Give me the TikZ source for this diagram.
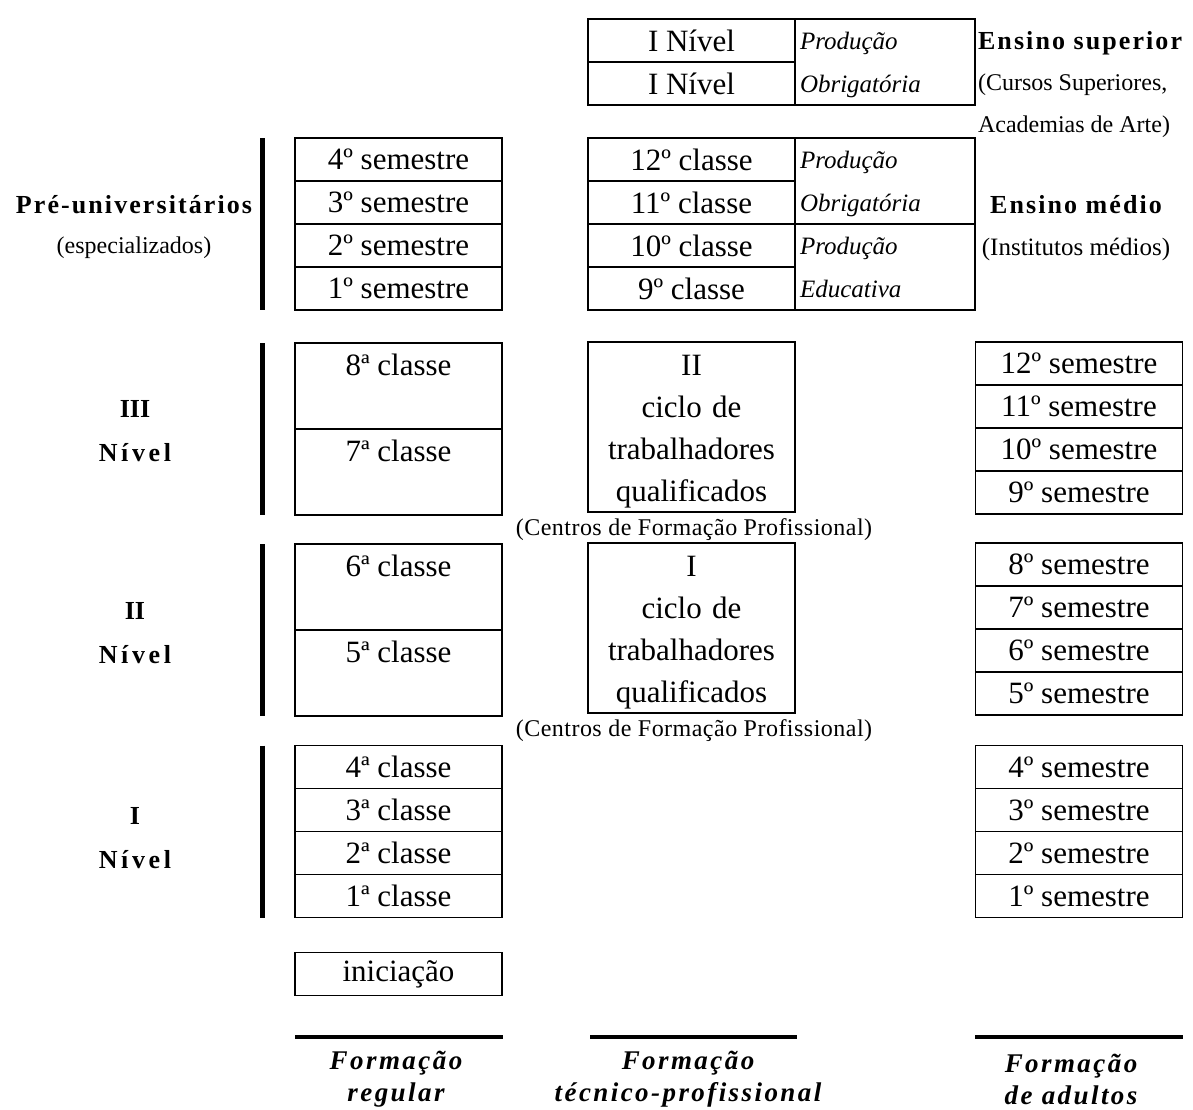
\documentclass[tikz,border=0pt]{standalone}
\usepackage{fontspec}
\setmainfont{Liberation Serif}
\newfontfamily\hdfont[LetterSpace=8]{Liberation Serif}
\newfontfamily\lvlfont[LetterSpace=14]{Liberation Serif}
\newfontfamily\ftfont[LetterSpace=9]{Liberation Serif}
\newfontfamily\cfpfont[LetterSpace=2]{Liberation Serif}
\usepackage{tikz}
\usetikzlibrary{positioning}
\newcommand\prodstrut{\rule[-3pt]{0pt}{14.5pt}}
\newcommand\ciclostrut{\rule[-3.4pt]{0pt}{18.2pt}}

\begin{document}
\begin{tikzpicture}[
  x=0.5pt, y=-0.5pt,
  cell/.style={draw, line width=0.9pt, minimum width=103.5pt, minimum height=21.5pt,
               inner sep=0pt, outer sep=0pt, align=center,
               font=\fontsize{15.5}{21}\selectfont},
  tallcell/.style={cell, minimum height=43pt},
  cyclebox/.style={cell, minimum height=85pt, text width=102pt,
                   execute at begin node=\ciclostrut, execute at end node=\ciclostrut},
  prodbox/.style={draw, line width=0.9pt, minimum width=90pt, minimum height=43pt,
                  inner sep=0pt, inner xsep=2.5pt, outer sep=0pt, text width=85pt,
                  align=left, font=\fontsize{12.5}{21.5}\selectfont\itshape,
                  execute at begin node=\prodstrut, execute at end node=\prodstrut},
  bar/.style={line width=2.5pt},
  rule/.style={line width=2pt},
  lvl/.style={align=center, font=\fontsize{13}{22}\selectfont\bfseries},
  note/.style={align=center, font=\fontsize{12}{20}\selectfont},
  cfp/.style={font=\fontsize{12}{14}\selectfont\cfpfont},
  colname/.style={align=center, font=\fontsize{13.5}{16}\selectfont\ftfont\bfseries\itshape},
]
  \useasboundingbox (0,0) rectangle (1193,1109);

  % Ensino superior
  \node[cell] (sup1) at (691.5,40.5) {I Nível};
  \node[cell, below=0pt of sup1] (sup2) {I Nível};
  \node[prodbox, anchor=north west] (supprod) at (sup1.north east) {Produção\\Obrigatória};
  \node[anchor=west, align=left, font=\fontsize{12}{20.75}\selectfont] (suplbl) at (971,84.5)
    {{\hdfont\bfseries\fontsize{13}{20.75}\selectfont Ensino\ superior}\\(Cursos Superiores,\\Academias de Arte)};

  % Ensino medio
  \node[cell] (c12) at (691.5,159.5) {12º classe};
  \node[cell, below=0pt of c12] (c11) {11º classe};
  \node[cell, below=0pt of c11] (c10) {10º classe};
  \node[cell, below=0pt of c10] (c9) {9º classe};
  \node[prodbox, anchor=north west] (prodob) at (c12.north east) {Produção\\Obrigatória};
  \node[prodbox, anchor=north west] (prodedu) at (c10.north east) {Produção\\Educativa};
  \node[note, font=\fontsize{12.5}{21}\selectfont] (medlbl) at (1076,228)
    {{\hdfont\bfseries\fontsize{13}{21}\selectfont Ensino\ médio}\\(Institutos médios)};

  % Pre-universitarios
  \node[cell] (s4) at (398.5,159.5) {4º semestre};
  \node[cell, below=0pt of s4] (s3) {3º semestre};
  \node[cell, below=0pt of s3] (s2) {2º semestre};
  \node[cell, below=0pt of s2] (s1) {1º semestre};
  \draw[bar] ([xshift=-16.5pt]s4.north west) -- ([xshift=-16.5pt]s1.south west);
  \node[note] (prelbl) at (134,227)
    {{\hdfont\bfseries\fontsize{13}{20}\selectfont Pré-universitários}\\(especializados)};

  % III Nivel
  \node[tallcell] (k8) at (398.5,386) {8ª classe\\\mbox{}};
  \node[tallcell, below=0pt of k8] (k7) {7ª classe\\\mbox{}};
  \draw[bar] ([xshift=-16.5pt]k8.north west) -- ([xshift=-16.5pt]k7.south west);
  \node[lvl] (lvl3) at (135,431) {III\\{\lvlfont Nível}};
  \node[cyclebox] (ciclo2) at (691.5,427) {II\\ciclo de\\trabalhadores\\qualificados};
  \node[cfp] (cfp2) at (694,530) {(Centros de Formação Profissional)};
  \node[cell] (a12) at (1079,363.5) {12º semestre};
  \node[cell, below=0pt of a12] (a11) {11º semestre};
  \node[cell, below=0pt of a11] (a10) {10º semestre};
  \node[cell, below=0pt of a10] (a9) {9º semestre};

  % II Nivel
  \node[tallcell] (k6) at (398.5,587) {6ª classe\\\mbox{}};
  \node[tallcell, below=0pt of k6] (k5) {5ª classe\\\mbox{}};
  \draw[bar] ([xshift=-16.5pt]k6.north west) -- ([xshift=-16.5pt]k5.south west);
  \node[lvl] (lvl2) at (135,633) {II\\{\lvlfont Nível}};
  \node[cyclebox] (ciclo1) at (691.5,628) {I\\ciclo de\\trabalhadores\\qualificados};
  \node[cfp] (cfp1) at (694,731) {(Centros de Formação Profissional)};
  \node[cell] (a8) at (1079,564.5) {8º semestre};
  \node[cell, below=0pt of a8] (a7) {7º semestre};
  \node[cell, below=0pt of a7] (a6) {6º semestre};
  \node[cell, below=0pt of a6] (a5) {5º semestre};

  % I Nivel
  \node[cell] (k4) at (398.5,767) {4ª classe};
  \node[cell, below=0pt of k4] (k3) {3ª classe};
  \node[cell, below=0pt of k3] (k2) {2ª classe};
  \node[cell, below=0pt of k2] (k1) {1ª classe};
  \draw[bar] ([xshift=-16.5pt]k4.north west) -- ([xshift=-16.5pt]k1.south west);
  \node[lvl] (lvl1) at (135,838) {I\\{\lvlfont Nível}};
  \node[cell] (a4) at (1079,767) {4º semestre};
  \node[cell, below=0pt of a4] (a3) {3º semestre};
  \node[cell, below=0pt of a3] (a2) {2º semestre};
  \node[cell, below=0pt of a2] (a1) {1º semestre};

  \node[cell] (ini) at (398.5,974) {iniciação};

  % column names
  \draw[rule] (295,1037) -- (503,1037);
  \draw[rule] (590,1037) -- (797,1037);
  \draw[rule] (975,1037) -- (1183,1037);
  \node[colname] (fregular) at (396,1079) {Formação\\regular};
  \node[colname] (ftecnico) at (688,1079) {Formação\\técnico-profissional};
  \node[colname] (fadultos) at (1071,1079) {Formação\\de adultos};
\end{tikzpicture}
\end{document}
